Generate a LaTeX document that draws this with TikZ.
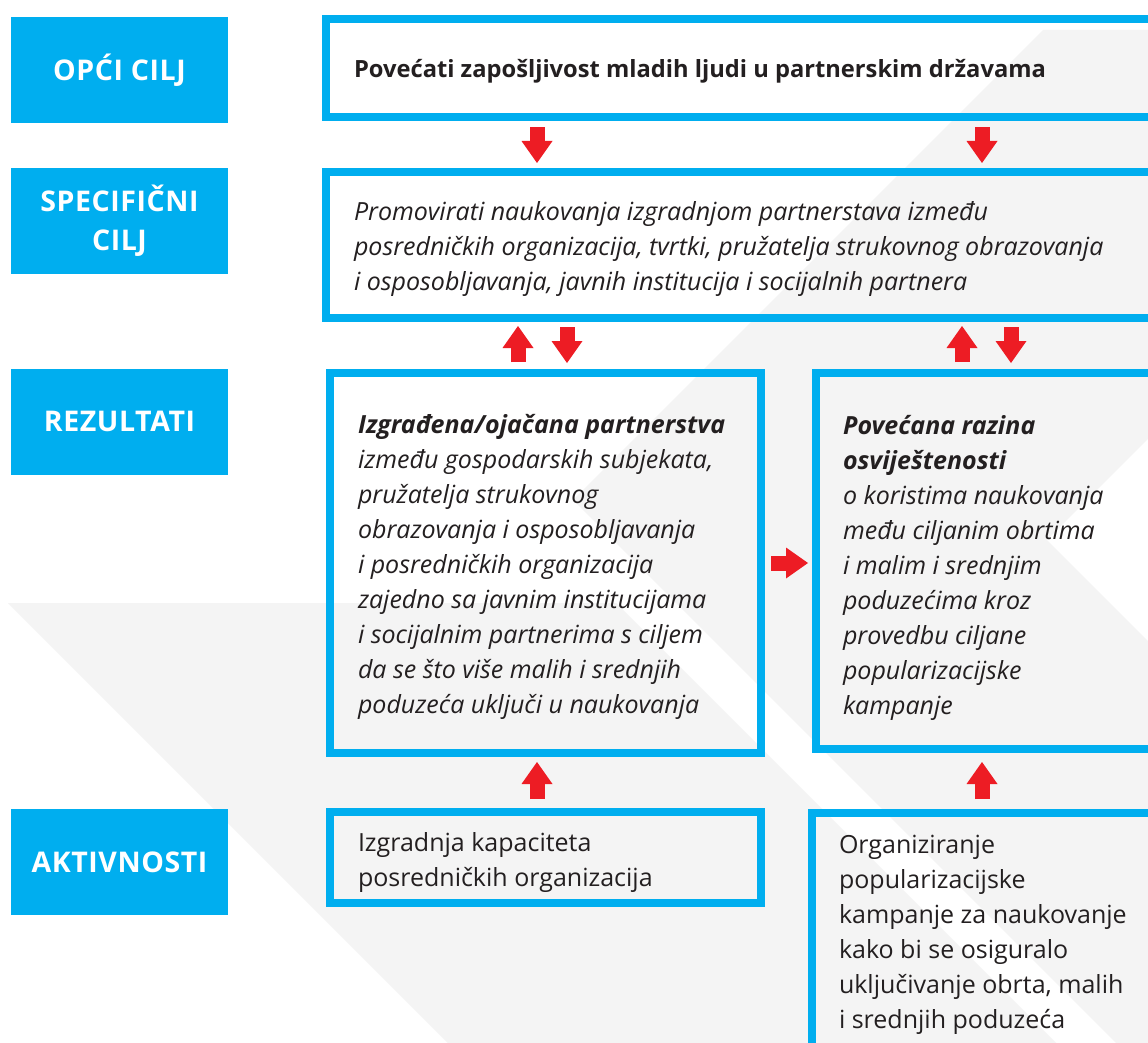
\documentclass[tikz,border=0pt]{standalone}
\usepackage{fontspec}
\setmainfont{Open Sans}
\usepackage{xcolor}
\usetikzlibrary{calc, positioning, arrows.meta}
\definecolor{cyanbox}{HTML}{00AEEF}
\definecolor{redarrow}{HTML}{ED1C24}
\definecolor{bggray}{HTML}{F4F4F4}
\definecolor{txtgray}{HTML}{231F20}
\tikzset{>=latex}
\tikzset{
  lvlbox/.style={fill=cyanbox, text=white, align=center, inner sep=0pt,
    minimum width=217pt, minimum height=106pt,
    font=\fontsize{28.5}{39}\selectfont\bfseries\addfontfeature{LetterSpace=2}},
  framebox/.style={draw=cyanbox, line width=8pt, text=txtgray, anchor=north west,
    inner xsep=28pt, font=\fontsize{25}{35}\selectfont},
  blockarrow/.style={draw=redarrow, line width=15pt,
    -{Triangle[width=31pt, length=22pt, line width=0pt, fill=redarrow]}}
}
\newcommand{\boxlines}[3]{\parbox[t][#1][t]{#2}{\raggedright #3}}

\begin{document}
\begin{tikzpicture}[x=1pt, y=-1pt]
    \useasboundingbox (0,0) rectangle (1148,1043);
    \clip (0,0) rectangle (1148,1043);
    \fill[white] (0,0) rectangle (1148,1043);
    \fill[bggray] (1043,30) -- (1148,30) -- (1148,1043) -- (1116,1043) -- (573,500) -- cycle;
    \fill[bggray] (8,603) -- (616,603) -- (1056,1043) -- (448,1043) -- cycle;
    \fill[white] (1047,540) -- (1148,439) -- (1148,641) -- cycle;

    \node[lvlbox] (lopci) at (119.5,70) {OPĆI CILJ};
    \node[lvlbox] (lspec) at (119.5,221) {SPECIFIČNI\\CILJ};
    \node[lvlbox] (lrez) at (119.5,421.5) {REZULTATI};
    \node[lvlbox] (lakt) at (119.5,862) {AKTIVNOSTI};

    \node[framebox, inner ysep=40pt] (goal) at (322,15)
    {\boxlines{18pt}{800pt}{\fontsize{23.7}{35}\selectfont\bfseries
     Povećati zapošljivost mladih ljudi u partnerskim državama}};
    \node[framebox, inner ysep=30pt] (spec) at (322,168)
    {\boxlines{86pt}{800pt}{\itshape Promovirati naukovanja izgradnjom partnerstava između\\
     posredničkih organizacija, tvrtki, pružatelja strukovnog obrazovanja\\
     i osposobljavanja, javnih institucija i socijalnih partnera}};
    \node[framebox, inner ysep=41pt] (res1) at (326,369)
    {\boxlines{298pt}{375pt}{\itshape{\bfseries Izgrađena/ojačana partnerstva}\\
     između gospodarskih subjekata,\\
     pružatelja strukovnog\\
     obrazovanja i osposobljavanja\\
     i posredničkih organizacija\\
     zajedno sa javnim institucijama\\
     i socijalnim partnerima s ciljem\\
     da se što više malih i srednjih\\
     poduzeća uključi u naukovanja}};
    \node[framebox, inner xsep=27pt, inner ysep=42pt] (res2) at (812,369)
    {\boxlines{292pt}{320pt}{\itshape{\bfseries Povećana razina\\ osviještenosti}\\
     o koristima naukovanja\\
     među ciljanim obrtima\\
     i malim i srednjim\\
     poduzećima kroz\\
     provedbu ciljane\\
     popularizacijske\\
     kampanje}};
    \node[framebox, inner ysep=20pt] (act1) at (326,808)
    {\boxlines{51pt}{375pt}{Izgradnja kapaciteta\\ posredničkih organizacija}};
    \node[framebox, inner xsep=27pt, inner ysep=22pt] (act2) at (808,809)
    {\boxlines{239pt}{330pt}{Organiziranje\\
     popularizacijske\\
     kampanje za naukovanje\\
     kako bi se osiguralo\\
     uključivanje obrta, malih\\
     i srednjih poduzeća}};

    \draw[blockarrow] ($(goal.south west)+(215,6)$) -- ($(spec.north west)+(215,-5)$);
    \draw[blockarrow] ($(goal.south west)+(660,6)$) -- ($(spec.north west)+(660,-5)$);
    \draw[blockarrow] ($(res1.north west)+(192,-7)$) -- ($(spec.south west)+(196,4)$);
    \draw[blockarrow] ($(spec.south west)+(245,5)$) -- ($(res1.north west)+(241,-6)$);
    \draw[blockarrow] ($(res2.north west)+(150,-7)$) -- ($(spec.south west)+(640,4)$);
    \draw[blockarrow] ($(spec.south west)+(689,5)$) -- ($(res2.north west)+(199,-6)$);
    \draw[blockarrow] ($(res1.east)+(6,0)$) -- ($(res1.east -| res2.west)+(-4,0)$);
    \draw[blockarrow] ($(act1.north west)+(211,-9)$) -- ($(res1.south west)+(211,5)$);
    \draw[blockarrow] ($(act2.north west)+(174,-10)$) -- ($(res2.south west)+(170,9)$);
\end{tikzpicture}
\end{document}
